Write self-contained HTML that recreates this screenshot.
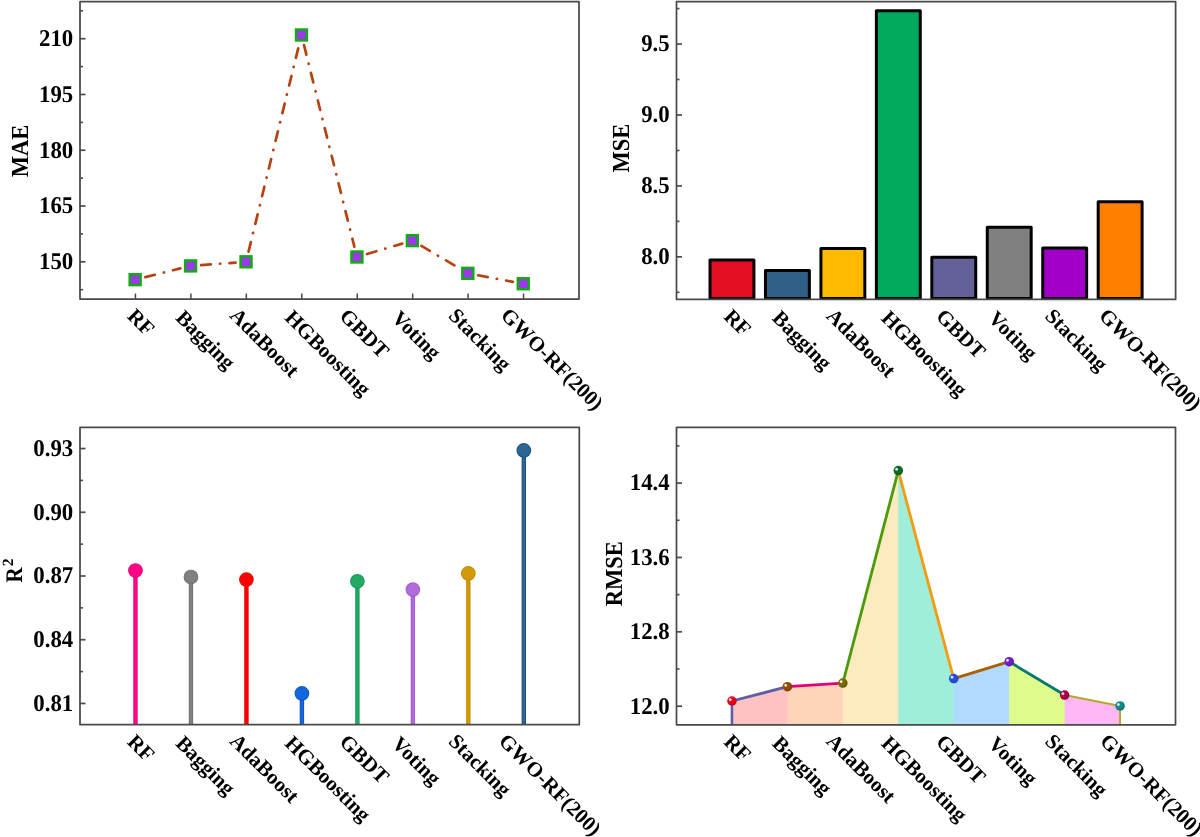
<!DOCTYPE html>
<html><head><meta charset="utf-8"><style>
html,body{margin:0;padding:0;background:#fff;width:1200px;height:837px;overflow:hidden}
svg{display:block;will-change:transform}
</style></head><body>
<svg width="1200" height="837" viewBox="0 0 1200 837">
<defs><radialGradient id="hl"><stop offset="0" stop-color="#fff" stop-opacity="0.95"/><stop offset="0.45" stop-color="#fff" stop-opacity="0.8"/><stop offset="1" stop-color="#fff" stop-opacity="0"/></radialGradient><radialGradient id="sh" cx="0.4" cy="0.38" r="0.62"><stop offset="0.6" stop-color="#000" stop-opacity="0"/><stop offset="1" stop-color="#000" stop-opacity="0.18"/></radialGradient></defs>
<rect width="1200" height="837" fill="#fff"/>
<line x1="145.34" y1="277.13" x2="180.40" y2="268.43" stroke="#B5420F" stroke-width="2.7" stroke-linecap="round" stroke-dasharray="9.8 9.2 0.3 9.2"/>
<line x1="201.06" y1="265.13" x2="235.56" y2="262.59" stroke="#B5420F" stroke-width="2.7" stroke-linecap="round" stroke-dasharray="9.8 9.2 0.3 9.2"/>
<line x1="248.53" y1="251.61" x2="298.98" y2="45.17" stroke="#B5420F" stroke-width="2.7" stroke-linecap="round" stroke-dasharray="9.8 9.2 0.3 9.2"/>
<line x1="304.02" y1="45.16" x2="354.38" y2="246.79" stroke="#B5420F" stroke-width="2.7" stroke-linecap="round" stroke-dasharray="9.8 9.2 0.3 9.2"/>
<line x1="366.99" y1="254.01" x2="402.30" y2="243.59" stroke="#B5420F" stroke-width="2.7" stroke-linecap="round" stroke-dasharray="9.8 9.2 0.3 9.2"/>
<line x1="421.41" y1="245.95" x2="458.77" y2="268.00" stroke="#B5420F" stroke-width="2.7" stroke-linecap="round" stroke-dasharray="9.8 9.2 0.3 9.2"/>
<line x1="478.13" y1="275.28" x2="512.94" y2="281.82" stroke="#B5420F" stroke-width="2.7" stroke-linecap="round" stroke-dasharray="9.8 9.2 0.3 9.2"/>
<rect x="129.64" y="274.16" width="11" height="11" fill="#9A38EA" stroke="#0FAE0F" stroke-width="2.4"/>
<rect x="185.09" y="260.40" width="11" height="11" fill="#9A38EA" stroke="#0FAE0F" stroke-width="2.4"/>
<rect x="240.53" y="256.31" width="11" height="11" fill="#9A38EA" stroke="#0FAE0F" stroke-width="2.4"/>
<rect x="295.98" y="29.47" width="11" height="11" fill="#9A38EA" stroke="#0FAE0F" stroke-width="2.4"/>
<rect x="351.42" y="251.48" width="11" height="11" fill="#9A38EA" stroke="#0FAE0F" stroke-width="2.4"/>
<rect x="406.87" y="235.12" width="11" height="11" fill="#9A38EA" stroke="#0FAE0F" stroke-width="2.4"/>
<rect x="462.31" y="267.84" width="11" height="11" fill="#9A38EA" stroke="#0FAE0F" stroke-width="2.4"/>
<rect x="517.76" y="278.25" width="11" height="11" fill="#9A38EA" stroke="#0FAE0F" stroke-width="2.4"/>
<rect x="80" y="1.5" width="499" height="297.5" fill="none" stroke="#4a4a4a" stroke-width="1.75" stroke-linejoin="round"/>
<line x1="80" y1="261.81" x2="85.5" y2="261.81" stroke="#4a4a4a" stroke-width="1.7"/>
<text transform="translate(73.20,269.21) scale(0.95,1)" text-anchor="end" style="font-family:'Liberation Serif',serif;font-weight:bold;text-rendering:geometricPrecision;font-size:24px">150</text>
<line x1="80" y1="206.03" x2="85.5" y2="206.03" stroke="#4a4a4a" stroke-width="1.7"/>
<text transform="translate(73.20,213.43) scale(0.95,1)" text-anchor="end" style="font-family:'Liberation Serif',serif;font-weight:bold;text-rendering:geometricPrecision;font-size:24px">165</text>
<line x1="80" y1="150.25" x2="85.5" y2="150.25" stroke="#4a4a4a" stroke-width="1.7"/>
<text transform="translate(73.20,157.65) scale(0.95,1)" text-anchor="end" style="font-family:'Liberation Serif',serif;font-weight:bold;text-rendering:geometricPrecision;font-size:24px">180</text>
<line x1="80" y1="94.47" x2="85.5" y2="94.47" stroke="#4a4a4a" stroke-width="1.7"/>
<text transform="translate(73.20,101.87) scale(0.95,1)" text-anchor="end" style="font-family:'Liberation Serif',serif;font-weight:bold;text-rendering:geometricPrecision;font-size:24px">195</text>
<line x1="80" y1="38.69" x2="85.5" y2="38.69" stroke="#4a4a4a" stroke-width="1.7"/>
<text transform="translate(73.20,46.09) scale(0.95,1)" text-anchor="end" style="font-family:'Liberation Serif',serif;font-weight:bold;text-rendering:geometricPrecision;font-size:24px">210</text>
<line x1="80" y1="289.70" x2="83" y2="289.70" stroke="#4a4a4a" stroke-width="1.6"/>
<line x1="80" y1="233.92" x2="83" y2="233.92" stroke="#4a4a4a" stroke-width="1.6"/>
<line x1="80" y1="178.14" x2="83" y2="178.14" stroke="#4a4a4a" stroke-width="1.6"/>
<line x1="80" y1="122.36" x2="83" y2="122.36" stroke="#4a4a4a" stroke-width="1.6"/>
<line x1="80" y1="66.58" x2="83" y2="66.58" stroke="#4a4a4a" stroke-width="1.6"/>
<line x1="80" y1="10.80" x2="83" y2="10.80" stroke="#4a4a4a" stroke-width="1.6"/>
<line x1="135.44" y1="299" x2="135.44" y2="293.5" stroke="#4a4a4a" stroke-width="1.5"/>
<line x1="190.89" y1="299" x2="190.89" y2="293.5" stroke="#4a4a4a" stroke-width="1.5"/>
<line x1="246.33" y1="299" x2="246.33" y2="293.5" stroke="#4a4a4a" stroke-width="1.5"/>
<line x1="301.78" y1="299" x2="301.78" y2="293.5" stroke="#4a4a4a" stroke-width="1.5"/>
<line x1="357.22" y1="299" x2="357.22" y2="293.5" stroke="#4a4a4a" stroke-width="1.5"/>
<line x1="412.67" y1="299" x2="412.67" y2="293.5" stroke="#4a4a4a" stroke-width="1.5"/>
<line x1="468.11" y1="299" x2="468.11" y2="293.5" stroke="#4a4a4a" stroke-width="1.5"/>
<line x1="523.56" y1="299" x2="523.56" y2="293.5" stroke="#4a4a4a" stroke-width="1.5"/>
<text transform="translate(126.25,317.25) rotate(45)" style="font-family:'Liberation Serif',serif;font-weight:bold;text-rendering:geometricPrecision;font-size:21px">RF</text>
<text transform="translate(174.70,318.70) rotate(45)" style="font-family:'Liberation Serif',serif;font-weight:bold;text-rendering:geometricPrecision;font-size:21px">Bagging</text>
<text transform="translate(228.80,316.50) rotate(45)" style="font-family:'Liberation Serif',serif;font-weight:bold;text-rendering:geometricPrecision;font-size:21px">AdaBoost</text>
<text transform="translate(283.80,318.80) rotate(45)" style="font-family:'Liberation Serif',serif;font-weight:bold;text-rendering:geometricPrecision;font-size:21px">HGBoosting</text>
<text transform="translate(338.50,317.20) rotate(45)" style="font-family:'Liberation Serif',serif;font-weight:bold;text-rendering:geometricPrecision;font-size:21px">GBDT</text>
<text transform="translate(390.80,319.20) rotate(45)" style="font-family:'Liberation Serif',serif;font-weight:bold;text-rendering:geometricPrecision;font-size:21px">Voting</text>
<text transform="translate(447.50,316.80) rotate(45)" style="font-family:'Liberation Serif',serif;font-weight:bold;text-rendering:geometricPrecision;font-size:21px">Stacking</text>
<text transform="translate(499.80,316.50) rotate(45)" style="font-family:'Liberation Serif',serif;font-weight:bold;text-rendering:geometricPrecision;font-size:21px">GWO-RF(200)</text>
<text transform="translate(28.4,150.9) rotate(-90) scale(0.92,1)" text-anchor="middle" style="font-family:'Liberation Serif',serif;font-weight:bold;text-rendering:geometricPrecision;font-size:24.5px">MAE</text>
<rect x="710.01" y="259.96" width="43.9" height="38.54" fill="#E31023" stroke="#000" stroke-width="3" stroke-linejoin="round"/>
<rect x="765.46" y="270.60" width="43.9" height="27.90" fill="#2E5F87" stroke="#000" stroke-width="3" stroke-linejoin="round"/>
<rect x="820.92" y="248.62" width="43.9" height="49.88" fill="#FDBA00" stroke="#000" stroke-width="3" stroke-linejoin="round"/>
<rect x="876.37" y="10.72" width="43.9" height="287.78" fill="#00A95C" stroke="#000" stroke-width="3" stroke-linejoin="round"/>
<rect x="931.83" y="257.13" width="43.9" height="41.37" fill="#646198" stroke="#000" stroke-width="3" stroke-linejoin="round"/>
<rect x="987.28" y="227.34" width="43.9" height="71.16" fill="#808080" stroke="#000" stroke-width="3" stroke-linejoin="round"/>
<rect x="1042.74" y="247.91" width="43.9" height="50.59" fill="#A000C8" stroke="#000" stroke-width="3" stroke-linejoin="round"/>
<rect x="1098.19" y="201.80" width="43.9" height="96.70" fill="#FF8000" stroke="#000" stroke-width="3" stroke-linejoin="round"/>
<rect x="676.5" y="1.5" width="499.0999999999999" height="297.9" fill="none" stroke="#4a4a4a" stroke-width="1.75" stroke-linejoin="round"/>
<line x1="676.5" y1="256.84" x2="682.0" y2="256.84" stroke="#4a4a4a" stroke-width="1.7"/>
<text transform="translate(669.70,264.24) scale(0.95,1)" text-anchor="end" style="font-family:'Liberation Serif',serif;font-weight:bold;text-rendering:geometricPrecision;font-size:24px">8.0</text>
<line x1="676.5" y1="185.91" x2="682.0" y2="185.91" stroke="#4a4a4a" stroke-width="1.7"/>
<text transform="translate(669.70,193.31) scale(0.95,1)" text-anchor="end" style="font-family:'Liberation Serif',serif;font-weight:bold;text-rendering:geometricPrecision;font-size:24px">8.5</text>
<line x1="676.5" y1="114.99" x2="682.0" y2="114.99" stroke="#4a4a4a" stroke-width="1.7"/>
<text transform="translate(669.70,122.39) scale(0.95,1)" text-anchor="end" style="font-family:'Liberation Serif',serif;font-weight:bold;text-rendering:geometricPrecision;font-size:24px">9.0</text>
<line x1="676.5" y1="44.06" x2="682.0" y2="44.06" stroke="#4a4a4a" stroke-width="1.7"/>
<text transform="translate(669.70,51.46) scale(0.95,1)" text-anchor="end" style="font-family:'Liberation Serif',serif;font-weight:bold;text-rendering:geometricPrecision;font-size:24px">9.5</text>
<line x1="676.5" y1="292.31" x2="679.5" y2="292.31" stroke="#4a4a4a" stroke-width="1.6"/>
<line x1="676.5" y1="221.38" x2="679.5" y2="221.38" stroke="#4a4a4a" stroke-width="1.6"/>
<line x1="676.5" y1="150.45" x2="679.5" y2="150.45" stroke="#4a4a4a" stroke-width="1.6"/>
<line x1="676.5" y1="79.52" x2="679.5" y2="79.52" stroke="#4a4a4a" stroke-width="1.6"/>
<line x1="676.5" y1="8.59" x2="679.5" y2="8.59" stroke="#4a4a4a" stroke-width="1.6"/>
<text transform="translate(722.75,317.65) rotate(45)" style="font-family:'Liberation Serif',serif;font-weight:bold;text-rendering:geometricPrecision;font-size:21px">RF</text>
<text transform="translate(771.20,319.10) rotate(45)" style="font-family:'Liberation Serif',serif;font-weight:bold;text-rendering:geometricPrecision;font-size:21px">Bagging</text>
<text transform="translate(825.30,316.90) rotate(45)" style="font-family:'Liberation Serif',serif;font-weight:bold;text-rendering:geometricPrecision;font-size:21px">AdaBoost</text>
<text transform="translate(880.30,319.20) rotate(45)" style="font-family:'Liberation Serif',serif;font-weight:bold;text-rendering:geometricPrecision;font-size:21px">HGBoosting</text>
<text transform="translate(935.00,317.60) rotate(45)" style="font-family:'Liberation Serif',serif;font-weight:bold;text-rendering:geometricPrecision;font-size:21px">GBDT</text>
<text transform="translate(987.30,319.60) rotate(45)" style="font-family:'Liberation Serif',serif;font-weight:bold;text-rendering:geometricPrecision;font-size:21px">Voting</text>
<text transform="translate(1044.00,317.20) rotate(45)" style="font-family:'Liberation Serif',serif;font-weight:bold;text-rendering:geometricPrecision;font-size:21px">Stacking</text>
<text transform="translate(1098.00,316.90) rotate(45)" style="font-family:'Liberation Serif',serif;font-weight:bold;text-rendering:geometricPrecision;font-size:21px">GWO-RF(200)</text>
<text transform="translate(628.7,148.2) rotate(-90) scale(0.92,1)" text-anchor="middle" style="font-family:'Liberation Serif',serif;font-weight:bold;text-rendering:geometricPrecision;font-size:24.5px">MSE</text>
<line x1="135.48" y1="724.7" x2="135.48" y2="570.48" stroke="#EC0079" stroke-width="4.4"/>
<line x1="135.48" y1="724.7" x2="135.48" y2="570.48" stroke="#FF0784" stroke-width="2.4"/>
<circle cx="135.48" cy="570.48" r="6.8" fill="#FF0784" stroke="#EC0079" stroke-width="1.1"/>
<line x1="190.96" y1="724.7" x2="190.96" y2="577.06" stroke="#747474" stroke-width="4.4"/>
<line x1="190.96" y1="724.7" x2="190.96" y2="577.06" stroke="#808080" stroke-width="2.4"/>
<circle cx="190.96" cy="577.06" r="6.8" fill="#808080" stroke="#747474" stroke-width="1.1"/>
<line x1="246.43" y1="724.7" x2="246.43" y2="579.61" stroke="#EC0000" stroke-width="4.4"/>
<line x1="246.43" y1="724.7" x2="246.43" y2="579.61" stroke="#FF0000" stroke-width="2.4"/>
<circle cx="246.43" cy="579.61" r="6.8" fill="#FF0000" stroke="#EC0000" stroke-width="1.1"/>
<line x1="301.91" y1="724.7" x2="301.91" y2="693.47" stroke="#0E58CC" stroke-width="4.4"/>
<line x1="301.91" y1="724.7" x2="301.91" y2="693.47" stroke="#1565DC" stroke-width="2.4"/>
<circle cx="301.91" cy="693.47" r="6.8" fill="#1565DC" stroke="#0E58CC" stroke-width="1.1"/>
<line x1="357.39" y1="724.7" x2="357.39" y2="581.31" stroke="#1A9A58" stroke-width="4.4"/>
<line x1="357.39" y1="724.7" x2="357.39" y2="581.31" stroke="#22A964" stroke-width="2.4"/>
<circle cx="357.39" cy="581.31" r="6.8" fill="#22A964" stroke="#1A9A58" stroke-width="1.1"/>
<line x1="412.87" y1="724.7" x2="412.87" y2="589.60" stroke="#A25ECE" stroke-width="4.4"/>
<line x1="412.87" y1="724.7" x2="412.87" y2="589.60" stroke="#B06CDA" stroke-width="2.4"/>
<circle cx="412.87" cy="589.60" r="6.8" fill="#B06CDA" stroke="#A25ECE" stroke-width="1.1"/>
<line x1="468.34" y1="724.7" x2="468.34" y2="573.45" stroke="#C38D00" stroke-width="4.4"/>
<line x1="468.34" y1="724.7" x2="468.34" y2="573.45" stroke="#D29A06" stroke-width="2.4"/>
<circle cx="468.34" cy="573.45" r="6.8" fill="#D29A06" stroke="#C38D00" stroke-width="1.1"/>
<line x1="523.82" y1="724.7" x2="523.82" y2="450.45" stroke="#1F5486" stroke-width="4.4"/>
<line x1="523.82" y1="724.7" x2="523.82" y2="450.45" stroke="#2F6591" stroke-width="2.4"/>
<circle cx="523.82" cy="450.45" r="6.8" fill="#2F6591" stroke="#1F5486" stroke-width="1.1"/>
<rect x="80" y="427.3" width="499.29999999999995" height="297.40000000000003" fill="none" stroke="#4a4a4a" stroke-width="1.75" stroke-linejoin="round"/>
<line x1="80" y1="703.46" x2="85.5" y2="703.46" stroke="#4a4a4a" stroke-width="1.7"/>
<text transform="translate(73.20,710.86) scale(0.95,1)" text-anchor="end" style="font-family:'Liberation Serif',serif;font-weight:bold;text-rendering:geometricPrecision;font-size:24px">0.81</text>
<line x1="80" y1="639.73" x2="85.5" y2="639.73" stroke="#4a4a4a" stroke-width="1.7"/>
<text transform="translate(73.20,647.13) scale(0.95,1)" text-anchor="end" style="font-family:'Liberation Serif',serif;font-weight:bold;text-rendering:geometricPrecision;font-size:24px">0.84</text>
<line x1="80" y1="576.00" x2="85.5" y2="576.00" stroke="#4a4a4a" stroke-width="1.7"/>
<text transform="translate(73.20,583.40) scale(0.95,1)" text-anchor="end" style="font-family:'Liberation Serif',serif;font-weight:bold;text-rendering:geometricPrecision;font-size:24px">0.87</text>
<line x1="80" y1="512.27" x2="85.5" y2="512.27" stroke="#4a4a4a" stroke-width="1.7"/>
<text transform="translate(73.20,519.67) scale(0.95,1)" text-anchor="end" style="font-family:'Liberation Serif',serif;font-weight:bold;text-rendering:geometricPrecision;font-size:24px">0.90</text>
<line x1="80" y1="448.54" x2="85.5" y2="448.54" stroke="#4a4a4a" stroke-width="1.7"/>
<text transform="translate(73.20,455.94) scale(0.95,1)" text-anchor="end" style="font-family:'Liberation Serif',serif;font-weight:bold;text-rendering:geometricPrecision;font-size:24px">0.93</text>
<line x1="80" y1="671.59" x2="83" y2="671.59" stroke="#4a4a4a" stroke-width="1.6"/>
<line x1="80" y1="607.86" x2="83" y2="607.86" stroke="#4a4a4a" stroke-width="1.6"/>
<line x1="80" y1="544.14" x2="83" y2="544.14" stroke="#4a4a4a" stroke-width="1.6"/>
<line x1="80" y1="480.41" x2="83" y2="480.41" stroke="#4a4a4a" stroke-width="1.6"/>
<text transform="translate(126.25,742.95) rotate(45)" style="font-family:'Liberation Serif',serif;font-weight:bold;text-rendering:geometricPrecision;font-size:21px">RF</text>
<text transform="translate(174.70,744.40) rotate(45)" style="font-family:'Liberation Serif',serif;font-weight:bold;text-rendering:geometricPrecision;font-size:21px">Bagging</text>
<text transform="translate(228.80,742.20) rotate(45)" style="font-family:'Liberation Serif',serif;font-weight:bold;text-rendering:geometricPrecision;font-size:21px">AdaBoost</text>
<text transform="translate(283.80,744.50) rotate(45)" style="font-family:'Liberation Serif',serif;font-weight:bold;text-rendering:geometricPrecision;font-size:21px">HGBoosting</text>
<text transform="translate(338.50,742.90) rotate(45)" style="font-family:'Liberation Serif',serif;font-weight:bold;text-rendering:geometricPrecision;font-size:21px">GBDT</text>
<text transform="translate(390.80,744.90) rotate(45)" style="font-family:'Liberation Serif',serif;font-weight:bold;text-rendering:geometricPrecision;font-size:21px">Voting</text>
<text transform="translate(447.50,742.50) rotate(45)" style="font-family:'Liberation Serif',serif;font-weight:bold;text-rendering:geometricPrecision;font-size:21px">Stacking</text>
<text transform="translate(497.80,742.20) rotate(45)" style="font-family:'Liberation Serif',serif;font-weight:bold;text-rendering:geometricPrecision;font-size:21px">GWO-RF(200)</text>
<text transform="translate(22.3,582.6) rotate(-90) scale(0.88,1)" style="font-family:'Liberation Serif',serif;font-weight:bold;text-rendering:geometricPrecision;font-size:23.8px">R</text>
<text transform="translate(12.65,566.3) rotate(-90)" style="font-family:'Liberation Serif',serif;font-weight:bold;text-rendering:geometricPrecision;font-size:15.6px">2</text>
<polygon points="731.94,724.0 731.94,701.00 787.99,686.48 787.99,724.0" fill="#FFC2C2"/>
<polygon points="787.39,724.0 787.39,686.64 843.43,683.02 843.43,724.0" fill="#FFD4B8"/>
<polygon points="842.83,724.0 842.83,683.06 898.88,468.32 898.88,724.0" fill="#FCEBBF"/>
<polygon points="898.28,724.0 898.28,470.62 954.32,680.85 954.32,724.0" fill="#9EEED9"/>
<polygon points="953.72,724.0 953.72,678.59 1009.77,661.49 1009.77,724.0" fill="#B0DAFF"/>
<polygon points="1009.17,724.0 1009.17,661.67 1065.21,695.41 1065.21,724.0" fill="#DDFC8B"/>
<polygon points="1064.61,724.0 1064.61,695.05 1120.06,705.93 1120.06,724.0" fill="#FFB8F5"/>
<line x1="731.94" y1="724.8" x2="731.94" y2="701.00" stroke="#5C5EA8" stroke-width="2.6"/>
<line x1="1120.06" y1="724.8" x2="1120.06" y2="705.93" stroke="#B4A828" stroke-width="1.9"/>
<line x1="731.94" y1="701.00" x2="787.39" y2="686.64" stroke="#5C5EA8" stroke-width="2.8"/>
<line x1="787.39" y1="686.64" x2="842.83" y2="683.06" stroke="#E0007A" stroke-width="2.8"/>
<line x1="842.83" y1="683.06" x2="898.28" y2="470.62" stroke="#4C9A0A" stroke-width="2.8"/>
<line x1="898.28" y1="470.62" x2="953.72" y2="678.59" stroke="#F49B10" stroke-width="2.8"/>
<line x1="953.72" y1="678.59" x2="1009.17" y2="661.67" stroke="#A86000" stroke-width="2.8"/>
<line x1="1009.17" y1="661.67" x2="1064.61" y2="695.05" stroke="#007A70" stroke-width="2.8"/>
<line x1="1064.61" y1="695.05" x2="1120.06" y2="705.93" stroke="#B4A828" stroke-width="2.1"/>
<circle cx="731.94" cy="701.00" r="4.75" fill="#E8001C"/>
<circle cx="731.94" cy="701.00" r="4.75" fill="url(#sh)"/>
<circle cx="730.24" cy="699.60" r="2.0" fill="url(#hl)"/>
<circle cx="787.39" cy="686.64" r="4.75" fill="#964B00"/>
<circle cx="787.39" cy="686.64" r="4.75" fill="url(#sh)"/>
<circle cx="785.69" cy="685.24" r="2.0" fill="url(#hl)"/>
<circle cx="842.83" cy="683.06" r="4.75" fill="#786900"/>
<circle cx="842.83" cy="683.06" r="4.75" fill="url(#sh)"/>
<circle cx="841.13" cy="681.66" r="2.0" fill="url(#hl)"/>
<circle cx="898.28" cy="470.62" r="4.75" fill="#0A6B2A"/>
<circle cx="898.28" cy="470.62" r="4.75" fill="url(#sh)"/>
<circle cx="896.58" cy="469.22" r="2.0" fill="url(#hl)"/>
<circle cx="953.72" cy="678.59" r="4.75" fill="#2450D8"/>
<circle cx="953.72" cy="678.59" r="4.75" fill="url(#sh)"/>
<circle cx="952.02" cy="677.19" r="2.0" fill="url(#hl)"/>
<circle cx="1009.17" cy="661.67" r="4.75" fill="#7020C8"/>
<circle cx="1009.17" cy="661.67" r="4.75" fill="url(#sh)"/>
<circle cx="1007.47" cy="660.27" r="2.0" fill="url(#hl)"/>
<circle cx="1064.61" cy="695.05" r="4.75" fill="#A8004A"/>
<circle cx="1064.61" cy="695.05" r="4.75" fill="url(#sh)"/>
<circle cx="1062.91" cy="693.65" r="2.0" fill="url(#hl)"/>
<circle cx="1120.06" cy="705.93" r="4.75" fill="#0A8A88"/>
<circle cx="1120.06" cy="705.93" r="4.75" fill="url(#sh)"/>
<circle cx="1118.36" cy="704.53" r="2.0" fill="url(#hl)"/>
<rect x="676.5" y="427.3" width="499.0" height="297.49999999999994" fill="none" stroke="#4a4a4a" stroke-width="1.75" stroke-linejoin="round"/>
<line x1="676.5" y1="706.21" x2="682.0" y2="706.21" stroke="#4a4a4a" stroke-width="1.7"/>
<text transform="translate(669.70,713.61) scale(0.95,1)" text-anchor="end" style="font-family:'Liberation Serif',serif;font-weight:bold;text-rendering:geometricPrecision;font-size:24px">12.0</text>
<line x1="676.5" y1="631.83" x2="682.0" y2="631.83" stroke="#4a4a4a" stroke-width="1.7"/>
<text transform="translate(669.70,639.23) scale(0.95,1)" text-anchor="end" style="font-family:'Liberation Serif',serif;font-weight:bold;text-rendering:geometricPrecision;font-size:24px">12.8</text>
<line x1="676.5" y1="557.46" x2="682.0" y2="557.46" stroke="#4a4a4a" stroke-width="1.7"/>
<text transform="translate(669.70,564.86) scale(0.95,1)" text-anchor="end" style="font-family:'Liberation Serif',serif;font-weight:bold;text-rendering:geometricPrecision;font-size:24px">13.6</text>
<line x1="676.5" y1="483.08" x2="682.0" y2="483.08" stroke="#4a4a4a" stroke-width="1.7"/>
<text transform="translate(669.70,490.48) scale(0.95,1)" text-anchor="end" style="font-family:'Liberation Serif',serif;font-weight:bold;text-rendering:geometricPrecision;font-size:24px">14.4</text>
<line x1="676.5" y1="669.02" x2="679.5" y2="669.02" stroke="#4a4a4a" stroke-width="1.6"/>
<line x1="676.5" y1="594.64" x2="679.5" y2="594.64" stroke="#4a4a4a" stroke-width="1.6"/>
<line x1="676.5" y1="520.27" x2="679.5" y2="520.27" stroke="#4a4a4a" stroke-width="1.6"/>
<line x1="676.5" y1="445.89" x2="679.5" y2="445.89" stroke="#4a4a4a" stroke-width="1.6"/>
<text transform="translate(722.75,743.05) rotate(45)" style="font-family:'Liberation Serif',serif;font-weight:bold;text-rendering:geometricPrecision;font-size:21px">RF</text>
<text transform="translate(771.20,744.50) rotate(45)" style="font-family:'Liberation Serif',serif;font-weight:bold;text-rendering:geometricPrecision;font-size:21px">Bagging</text>
<text transform="translate(825.30,742.30) rotate(45)" style="font-family:'Liberation Serif',serif;font-weight:bold;text-rendering:geometricPrecision;font-size:21px">AdaBoost</text>
<text transform="translate(880.30,744.60) rotate(45)" style="font-family:'Liberation Serif',serif;font-weight:bold;text-rendering:geometricPrecision;font-size:21px">HGBoosting</text>
<text transform="translate(935.00,743.00) rotate(45)" style="font-family:'Liberation Serif',serif;font-weight:bold;text-rendering:geometricPrecision;font-size:21px">GBDT</text>
<text transform="translate(987.30,745.00) rotate(45)" style="font-family:'Liberation Serif',serif;font-weight:bold;text-rendering:geometricPrecision;font-size:21px">Voting</text>
<text transform="translate(1044.00,742.60) rotate(45)" style="font-family:'Liberation Serif',serif;font-weight:bold;text-rendering:geometricPrecision;font-size:21px">Stacking</text>
<text transform="translate(1099.00,742.30) rotate(45)" style="font-family:'Liberation Serif',serif;font-weight:bold;text-rendering:geometricPrecision;font-size:21px">GWO-RF(200)</text>
<text transform="translate(622.4,573.8) rotate(-90) scale(0.92,1)" text-anchor="middle" style="font-family:'Liberation Serif',serif;font-weight:bold;text-rendering:geometricPrecision;font-size:24.5px">RMSE</text>
</svg>
</body></html>
